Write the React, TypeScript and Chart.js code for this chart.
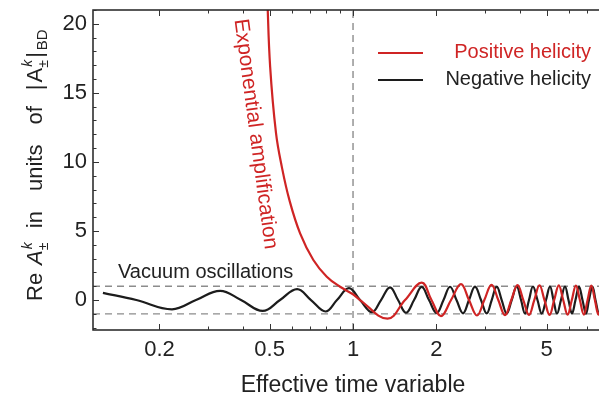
import React, { useEffect, useRef } from "react";
import { Chart, registerables } from "chart.js";

Chart.register(...registerables);

// ---- data ----
const negTime = [0.125, 0.165, 0.222, 0.271, 0.331, 0.394, 0.472, 0.545, 0.628, 0.705, 0.796, 0.875, 0.967, 1.06, 1.171, 1.262, 1.36, 1.454, 1.554, 1.661, 1.77, 1.881, 2.005, 2.122, 2.24, 2.364, 2.495, 2.623, 2.757, 2.898, 3.038, 3.168, 3.303, 3.442, 3.588, 3.741, 3.899, 4.043, 4.178, 4.319, 4.464, 4.635, 4.8, 4.975, 5.143, 5.295, 5.452, 5.635, 5.826, 5.998, 6.174, 6.357, 6.545, 6.738, 6.937, 7.112, 7.32, 7.506, 7.73, 7.93];
const negValue = [0.52, 0, -0.67, 0, 0.67, 0, -0.79, 0, 0.79, 0, -0.83, 0, 0.86, 0, -0.88, 0, 0.92, 0, -0.92, 0, 0.95, 0, -0.95, 0, 0.96, 0, -0.96, 0, 0.97, 0, -0.97, 0, 0.97, 0, -0.97, 0, 0.98, 0, -0.98, 0, 0.98, 0, -0.98, 0, 0.98, 0, -0.98, 0, 0.98, 0, -0.98, 0, 0.98, 0, -0.98, 0, 0.98, 0, -0.98, 0];

const posTime = [0.49, 0.502, 0.527, 0.553, 0.589, 0.644, 0.719, 0.804, 0.898, 1.0025, 1.06, 1.332, 1.541, 1.77, 1.92, 2.078, 2.259, 2.454, 2.623, 2.803, 2.979, 3.163, 3.346, 3.538, 3.728, 3.926, 4.12, 4.319, 4.513, 4.713, 4.913, 5.123, 5.325, 5.534, 5.74, 5.954, 6.166, 6.379, 6.594, 6.812, 7.03, 7.251, 7.47, 7.697, 7.925];
const posValue = [22, 16.9, 12.1, 9.66, 7.25, 4.83, 2.9, 1.69, 0.96, 0.4, 0, -1.35, 0, 1.26, 0, -1.16, 0, 1.15, 0, -1.12, 0, 1.1, 0, -1.1, 0, 1.08, 0, -1.08, 0, 1.07, 0, -1.07, 0, 1.06, 0, -1.06, 0, 1.05, 0, -1.05, 0, 1.05, 0, -1.05, 0];

const seriesLabels = ["Positive helicity", "Negative helicity"];
const refLevels = [1, -1];
const refTimes = [1];

const xRange = [0.1151, 7.73];
const yRange = [-2.17, 21.0];
const xMajorTicks = [0.2, 0.5, 1, 2, 5];
const xMinorTicks = [0.3, 0.4, 0.6, 0.7, 0.8, 0.9, 3, 4, 6, 7];
const yMajorTicks = [0, 5, 10, 15, 20];
const yMinorTicks = [-2, -1, 1, 2, 3, 4, 6, 7, 8, 9, 11, 12, 13, 14, 16, 17, 18, 19, 21];

const annotationVacuum = "Vacuum oscillations";
const annotationAmp = "Exponential amplification";
const xTitle = "Effective time variable";

const FONT = '"Liberation Sans", Arial, Helvetica, sans-serif';
const RED = "#cf2424";
const BLACK = "#1c1c1c";
const DASH = "#8c8c8c";

const framePlugin = {
  id: "frameTicks",
  afterDatasetsDraw(chart: any) {
    const { ctx, chartArea: a, scales } = chart;
    const x = scales.x;
    const y = scales.y;
    ctx.save();
    ctx.strokeStyle = "#222";
    ctx.lineWidth = 1.5;
    ctx.beginPath();
    ctx.moveTo(a.right + 2, a.top);
    ctx.lineTo(a.left, a.top);
    ctx.lineTo(a.left, a.bottom);
    ctx.lineTo(a.right + 2, a.bottom);
    ctx.stroke();
    ctx.lineWidth = 1;
    ctx.strokeStyle = "#333";
    const vt = (v: number, len: number) => {
      const px = Math.round(x.getPixelForValue(v)) + 0.5;
      ctx.beginPath();
      ctx.moveTo(px, a.bottom);
      ctx.lineTo(px, a.bottom - len);
      ctx.moveTo(px, a.top);
      ctx.lineTo(px, a.top + len);
      ctx.stroke();
    };
    xMajorTicks.forEach((v) => vt(v, 6));
    xMinorTicks.forEach((v) => vt(v, 3.5));
    const ht = (v: number, len: number) => {
      const py = Math.round(y.getPixelForValue(v)) + 0.5;
      ctx.beginPath();
      ctx.moveTo(a.left, py);
      ctx.lineTo(a.left + len, py);
      ctx.stroke();
    };
    yMajorTicks.forEach((v) => ht(v, 6));
    yMinorTicks.forEach((v) => ht(v, 3.5));
    ctx.restore();
  },
};

const textPlugin = {
  id: "texts",
  afterDraw(chart: any) {
    const { ctx } = chart;
    ctx.save();
    ctx.fillStyle = "#222";
    ctx.font = `20px ${FONT}`;
    ctx.textAlign = "left";
    ctx.textBaseline = "alphabetic";
    ctx.fillText(annotationVacuum, 118, 278);

    ctx.save();
    ctx.translate(255.5, 134);
    ctx.rotate((82.4 * Math.PI) / 180);
    ctx.fillStyle = RED;
    ctx.font = `21px ${FONT}`;
    ctx.textAlign = "center";
    ctx.textBaseline = "middle";
    ctx.fillText(annotationAmp, 0, 0);
    ctx.restore();

    const ds = chart.data.datasets;
    const legendRows = [
      { y: 53, color: ds[0].borderColor, label: ds[0].label },
      { y: 80, color: ds[1].borderColor, label: ds[1].label },
    ];
    legendRows.forEach((r) => {
      ctx.strokeStyle = r.color;
      ctx.lineWidth = 2;
      ctx.beginPath();
      ctx.moveTo(378, r.y);
      ctx.lineTo(423, r.y);
      ctx.stroke();
      ctx.fillStyle = r.color === RED ? RED : "#222";
      ctx.font = `20px ${FONT}`;
      ctx.textAlign = "right";
      ctx.textBaseline = "middle";
      ctx.fillText(r.label, 591, r.y - 1);
    });

    ctx.fillStyle = "#222";
    ctx.font = `23px ${FONT}`;
    ctx.textAlign = "center";
    ctx.textBaseline = "middle";
    ctx.fillText(xTitle, 353, 386);

    ctx.save();
    ctx.translate(42, 301);
    ctx.rotate(-Math.PI / 2);
    ctx.fillStyle = "#222";
    ctx.textAlign = "left";
    ctx.textBaseline = "alphabetic";
    let pos = 0;
    const main = `22px ${FONT}`;
    const ital = `italic 22px ${FONT}`;
    const small = `14px ${FONT}`;
    const smallIt = `italic 14px ${FONT}`;
    const put = (t: string, f: string, dy = 0) => {
      ctx.font = f;
      ctx.fillText(t, pos, dy);
      return ctx.measureText(t).width;
    };
    const scripts = () => {
      ctx.font = smallIt;
      ctx.fillText("k", pos + 1, -10);
      const w1 = ctx.measureText("k").width + 1;
      ctx.font = small;
      ctx.fillText("\u00b1", pos, 6);
      const w2 = ctx.measureText("\u00b1").width;
      return Math.max(w1, w2);
    };
    pos += put("Re", main);
    pos += 8;
    pos += put("A", ital);
    pos += scripts();
    pos += 14;
    pos += put("in", main);
    pos += 20;
    pos += put("units", main);
    pos += 20;
    pos += put("of", main);
    pos += 16;
    pos += put("|", main) + 2;
    pos += put("A", main);
    pos += scripts() + 2;
    pos += put("|", main) + 2;
    put("BD", `15px ${FONT}`, 5);
    ctx.restore();

    ctx.restore();
  },
};

export default function App() {
  const ref = useRef<HTMLCanvasElement | null>(null);
  useEffect(() => {
    if (!ref.current) return;
    const posData = posTime.map((t, i) => ({ x: t, y: posValue[i] }));
    const negData = negTime.map((t, i) => ({ x: t, y: negValue[i] }));
    const dashStyle = {
      borderColor: DASH,
      borderWidth: 1.4,
      borderDash: [7, 5],
      pointRadius: 0,
      order: 3,
      clip: 0,
      tension: 0,
    };
    const refDatasets = refLevels.map((lv) => ({
      label: "",
      data: [
        { x: xRange[0], y: lv },
        { x: xRange[1], y: lv },
      ],
      ...dashStyle,
    }));
    const vDatasets = refTimes.map((t) => ({
      label: "",
      data: [
        { x: t, y: yRange[0] },
        { x: t, y: yRange[1] },
      ],
      ...dashStyle,
    }));
    const chart = new Chart(ref.current, {
      type: "line",
      data: {
        datasets: [
          {
            label: seriesLabels[0],
            data: posData,
            borderColor: RED,
            borderWidth: 2.2,
            pointRadius: 0,
            tension: 0.4,
            order: 0,
            clip: 0,
          },
          {
            label: seriesLabels[1],
            data: negData,
            borderColor: BLACK,
            borderWidth: 2.2,
            pointRadius: 0,
            tension: 0.4,
            order: 1,
            clip: 0,
          },
          ...refDatasets,
          ...vDatasets,
        ] as any,
      },
      options: {
        animation: false,
        responsive: false,
        maintainAspectRatio: false,
        devicePixelRatio: 1,
        parsing: false as any,
        normalized: true,
        layout: { padding: { top: 10, left: 0, right: 0, bottom: 0 }, autoPadding: false } as any,
        plugins: { legend: { display: false }, tooltip: { enabled: false } },
        events: [],
        scales: {
          x: {
            type: "logarithmic",
            min: xRange[0],
            max: xRange[1],
            grid: { display: false, drawTicks: false },
            border: { display: false },
            afterBuildTicks: (s: any) => {
              s.ticks = xMajorTicks.map((v) => ({ value: v }));
            },
            afterFit: (s: any) => {
              s.height = 72;
              s.paddingLeft = 0;
              s.paddingRight = 0;
            },
            ticks: {
              autoSkip: false,
              maxRotation: 0,
              padding: 7,
              color: "#222",
              font: { family: FONT, size: 22 },
              callback: (v: any) => String(v),
            },
          },
          y: {
            type: "linear",
            min: yRange[0],
            max: yRange[1],
            grid: { display: false, drawTicks: false },
            border: { display: false },
            afterBuildTicks: (s: any) => {
              s.ticks = yMajorTicks.map((v) => ({ value: v }));
            },
            afterFit: (s: any) => {
              s.width = 93;
              s.paddingTop = 0;
              s.paddingBottom = 0;
            },
            ticks: {
              autoSkip: false,
              padding: 6,
              color: "#222",
              font: { family: FONT, size: 22 },
              callback: (v: any) => String(v),
            },
          },
        } as any,
      },
      plugins: [framePlugin, textPlugin],
    } as any);
    return () => chart.destroy();
  }, []);
  return (
    <div style={{ position: "fixed", left: 0, top: 0, width: 599, height: 402, background: "#fff", overflow: "hidden" }}>
      <canvas ref={ref} width={599} height={402} style={{ display: "block" }} />
    </div>
  );
}
